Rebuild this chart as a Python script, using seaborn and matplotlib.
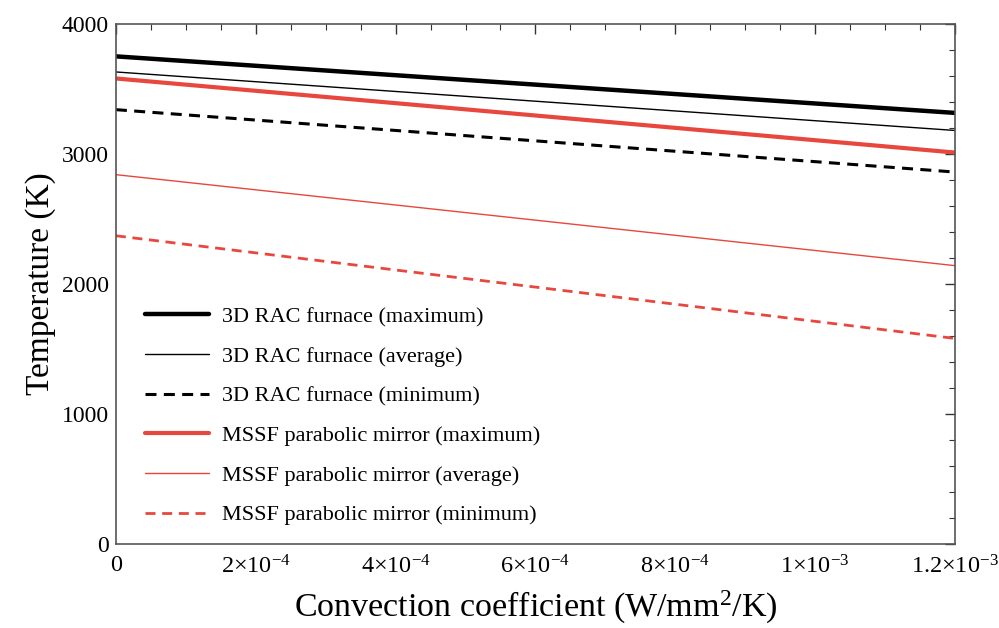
import matplotlib
matplotlib.use("Agg")
import matplotlib.pyplot as plt
import seaborn as sns
import numpy as np
import pandas as pd
from matplotlib.ticker import MultipleLocator, FixedLocator

# ---- data ----
x_vals = [0.0, 1.2e-3]
rac_max = [3750, 3315]
rac_avg = [3630, 3180]
rac_min = [3340, 2860]
mssf_max = [3580, 3010]
mssf_avg = [2840, 2140]
mssf_min = [2370, 1580]
labels = ["3D RAC furnace (maximum)", "3D RAC furnace (average)",
          "3D RAC furnace (minimum)", "MSSF parabolic mirror (maximum)",
          "MSSF parabolic mirror (average)", "MSSF parabolic mirror (minimum)"]
xtick_vals = [0, 2e-4, 4e-4, 6e-4, 8e-4, 1e-3, 1.2e-3]
xtick_labels = ["0", r"2×10$^{-4}$", r"4×10$^{-4}$", r"6×10$^{-4}$",
                r"8×10$^{-4}$", r"1×10$^{-3}$", r"1.2×10$^{-3}$"]
ytick_vals = [0, 1000, 2000, 3000, 4000]

sns.set_theme(style="white")
plt.rcParams['font.family'] = ['Liberation Serif', 'DejaVu Serif']
plt.rcParams['mathtext.fontset'] = 'custom'
plt.rcParams['mathtext.rm'] = 'Liberation Serif'
plt.rcParams['mathtext.it'] = 'Liberation Serif:italic'
plt.rcParams['mathtext.bf'] = 'Liberation Serif:bold'
plt.rcParams['text.color'] = 'black'
plt.rcParams['axes.labelcolor'] = 'black'

fig = plt.figure(figsize=(9.99, 6.28), dpi=100)
ax = fig.add_axes([0.116, 0.134, 0.840, 0.828])

red = "#E8473D"
series = [rac_max, rac_avg, rac_min, mssf_max, mssf_avg, mssf_min]
colors = ["black", "black", "black", red, red, red]
widths = [3.2, 1.0, 2.2, 3.0, 1.0, 2.0]
styles = ["-", "-", "--", "-", "-", "--"]

for ys, c, w, s, lab in zip(series, colors, widths, styles, labels):
    df = pd.DataFrame({"x": x_vals, "y": ys})
    sns.lineplot(data=df, x="x", y="y", ax=ax, color=c, linewidth=w,
                 linestyle=s, label=lab)
for line in ax.get_lines():
    if line.get_linestyle() == "--":
        line.set_dashes((3.6, 2.4))

ax.set_xlim(0, 1.2e-3)
ax.set_ylim(0, 4000)
ax.xaxis.set_major_locator(FixedLocator(xtick_vals))
ax.set_xticklabels(xtick_labels)
ax.xaxis.set_minor_locator(MultipleLocator(5e-5))
ax.yaxis.set_major_locator(FixedLocator(ytick_vals))
ax.yaxis.set_minor_locator(MultipleLocator(200))

ax.tick_params(which="both", direction="in", top=True, right=True,
               colors="#333333", labelcolor="black")
ax.tick_params(which="major", length=7, width=1.0)
ax.tick_params(which="minor", length=4, width=0.8)
ax.tick_params(axis="y", which="major", labelsize=17, pad=5)
ax.tick_params(axis="x", which="major", labelsize=17.5, pad=8)
for sp in ax.spines.values():
    sp.set_color("#555555")
    sp.set_linewidth(1.2)

ax.set_xlabel(r"Convection coefficient (W/mm$^{2}$/K)", fontsize=24.5, labelpad=8)
ax.set_ylabel("Temperature (K)", fontsize=24, labelpad=4)

leg = ax.legend(loc="lower left", bbox_to_anchor=(0.024, 0.0185), frameon=False,
                fontsize=16, handlelength=2.9, handletextpad=0.55,
                labelspacing=0.86, borderaxespad=0)
for t in leg.get_texts():
    t.set_color("black")

fig.savefig("out.png", dpi=100)
